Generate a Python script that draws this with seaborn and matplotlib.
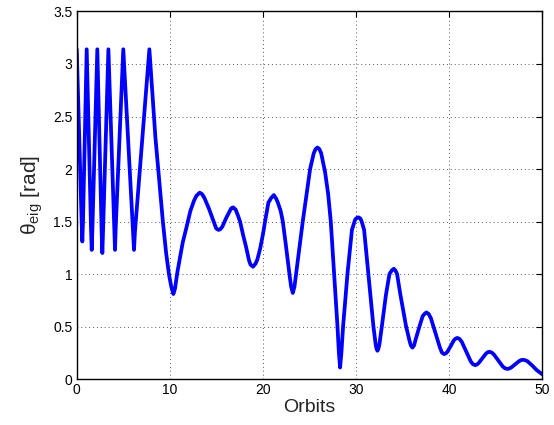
import matplotlib
matplotlib.use("Agg")
import matplotlib.pyplot as plt
import seaborn as sns
import pandas as pd

# Values (orbit number, angle in rad)
orbits = [
    0.0, 0.52, 0.60, 0.68, 1.07, 1.53, 1.61, 1.69, 2.21, 2.67, 2.75, 2.83,
    3.40, 4.03, 4.11, 4.19, 5.00, 6.05, 6.15, 6.25, 7.80,
    8.10, 8.45, 8.90, 9.25, 9.60, 9.90, 10.15, 10.38, 10.55,
    10.81, 11.38, 11.80, 12.20, 12.60, 12.85, 13.20, 13.45,
    13.71, 14.21, 14.75, 14.98, 15.23, 15.43,
    15.63, 16.03, 16.43, 16.60, 16.80, 17.07,
    17.30, 17.54, 17.87, 18.18, 18.50, 18.66, 18.93, 19.21,
    19.40, 19.69, 20.00, 20.22, 20.58, 20.89, 21.17, 21.42,
    21.60, 21.90, 22.13, 22.48, 22.84, 23.02, 23.20, 23.38,
    23.55, 24.27, 25.06, 25.45, 25.65, 25.85, 26.05,
    26.25, 26.67, 27.00, 27.28, 27.64, 28.00, 28.15, 28.28,
    28.42, 28.60, 29.07, 29.55, 29.90, 30.08, 30.25, 30.45,
    30.60, 30.86, 31.32, 31.86, 32.10, 32.20, 32.29, 32.38,
    32.50, 32.76, 33.20, 33.58, 33.83, 34.05, 34.22,
    34.40, 34.73, 35.37, 35.75, 35.88, 36.05, 36.22,
    36.40, 36.80, 37.15, 37.36, 37.55, 37.79,
    38.03, 38.55, 39.00, 39.21, 39.45, 39.63,
    39.80, 40.16, 40.50, 40.69, 40.87, 41.11,
    41.35, 41.82, 42.30, 42.53, 42.77, 42.96,
    43.15, 43.53, 43.92, 44.11, 44.30, 44.54,
    44.78, 45.26, 45.74, 45.98, 46.22, 46.43,
    46.65, 47.07, 47.50, 47.72, 47.93, 48.15,
    48.40, 48.90, 49.40, 50.00,
]
theta_eig = [
    3.14, 1.52, 1.31, 1.52, 3.14, 1.45, 1.23, 1.45, 3.14, 1.42, 1.20, 1.42,
    3.14, 1.45, 1.23, 1.45, 3.14, 1.38, 1.23, 1.40, 3.14,
    2.75, 2.30, 1.85, 1.50, 1.20, 1.00, 0.88, 0.81, 0.86,
    1.02, 1.30, 1.45, 1.60, 1.70, 1.745, 1.775, 1.762,
    1.725, 1.62, 1.49, 1.433, 1.42, 1.428,
    1.45, 1.53, 1.60, 1.627, 1.635, 1.613,
    1.56, 1.50, 1.37, 1.26, 1.13, 1.09, 1.07, 1.10,
    1.14, 1.24, 1.38, 1.50, 1.68, 1.726, 1.752, 1.717,
    1.68, 1.60, 1.50, 1.26, 1.00, 0.88, 0.82, 0.88,
    1.00, 1.50, 2.00, 2.15, 2.19, 2.205, 2.19,
    2.15, 1.97, 1.76, 1.50, 1.00, 0.50, 0.25, 0.11,
    0.25, 0.50, 1.00, 1.42, 1.52, 1.535, 1.54, 1.53,
    1.50, 1.42, 1.00, 0.50, 0.33, 0.285, 0.27, 0.285,
    0.33, 0.50, 0.80, 1.00, 1.035, 1.05, 1.035,
    1.00, 0.816, 0.50, 0.36, 0.32, 0.30, 0.32,
    0.38, 0.50, 0.60, 0.622, 0.635, 0.62,
    0.58, 0.43, 0.30, 0.253, 0.238, 0.244,
    0.26, 0.315, 0.37, 0.386, 0.392, 0.382,
    0.354, 0.262, 0.17, 0.143, 0.133, 0.138,
    0.152, 0.196, 0.24, 0.255, 0.26, 0.254,
    0.236, 0.178, 0.121, 0.103, 0.097, 0.10,
    0.11, 0.14, 0.171, 0.181, 0.184, 0.18,
    0.17, 0.13, 0.085, 0.045,
]
x_ticks = [0, 10, 20, 30, 40, 50]
y_ticks = [0, 0.5, 1, 1.5, 2, 2.5, 3, 3.5]
y_tick_labels = ["0", "0.5", "1", "1.5", "2", "2.5", "3", "3.5"]

sns.set_style("white")
plt.rcParams["font.family"] = ["Liberation Sans", "DejaVu Sans"]
plt.rcParams["mathtext.fontset"] = "custom"
plt.rcParams["mathtext.rm"] = "Liberation Sans"
plt.rcParams["mathtext.it"] = "Liberation Sans:italic"

df = pd.DataFrame({"Orbits": orbits, "theta": theta_eig})

fig = plt.figure(figsize=(5.54, 4.25), dpi=100)
ax = fig.add_axes([0.1385, 0.108, 0.8405, 0.865])

sns.lineplot(data=df, x="Orbits", y="theta", ax=ax, color="#0000ff",
             linewidth=2.7, sort=False, estimator=None)

ax.set_xlim(0, 50)
ax.set_ylim(0, 3.5)
ax.set_xticks(x_ticks)
ax.set_xticklabels([str(t) for t in x_ticks])
ax.set_yticks(y_ticks)
ax.set_yticklabels(y_tick_labels)

ax.grid(True, linestyle=(0, (1, 3)), color="0.35", linewidth=0.7)
ax.set_axisbelow(True)
for s in ax.spines.values():
    s.set_color("black")
    s.set_linewidth(1.0)
    s.set_visible(True)

ax.tick_params(direction="in", length=4, width=0.8, top=True, right=True,
               labelsize=10, colors="black", pad=3)

ax.set_xlabel("Orbits", fontsize=14, labelpad=1)
ax.set_ylabel(r"$\mathrm{\theta_{eig}}$ [rad]", fontsize=15, labelpad=6)

fig.savefig("out.png", dpi=100)
